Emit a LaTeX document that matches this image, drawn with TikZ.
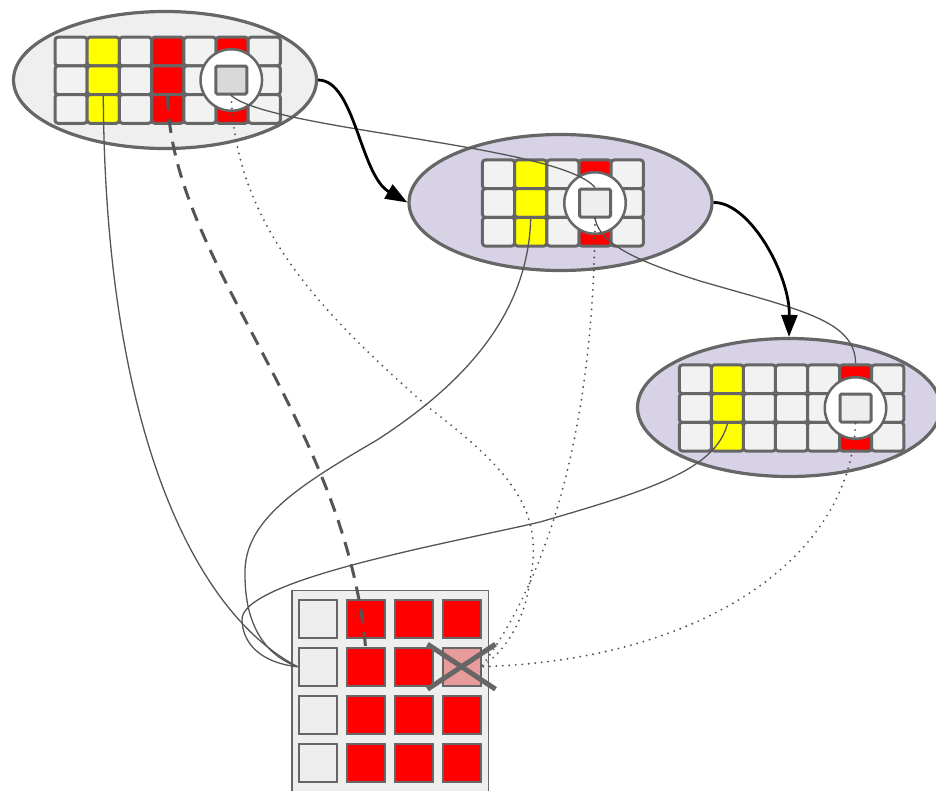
\documentclass[tikz,border=0pt]{standalone}
\usetikzlibrary{shapes.geometric,arrows.meta}

\definecolor{edgegray}{HTML}{666666}
\definecolor{linkgray}{HTML}{555555}
\definecolor{cellfill}{HTML}{F2F2F2}
\definecolor{ovalfill}{HTML}{EFEFEF}
\definecolor{lavender}{HTML}{D8D2E6}
\definecolor{boardfill}{HTML}{EEEEEE}
\definecolor{paleredfill}{HTML}{E89B9B}
\definecolor{pureyellow}{HTML}{FFFF00}
\definecolor{purered}{HTML}{FF0000}
\definecolor{keyfill}{HTML}{D9D9D9}

\tikzset{
  oval/.style={ellipse, draw=edgegray, line width=3.2pt, inner sep=0pt,
    minimum width=303pt, minimum height=136pt},
  slot/.style={rectangle, draw=edgegray, line width=3pt, rounded corners=3pt,
    inner sep=0pt, minimum width=32.2pt, minimum height=28.7pt},
  lens/.style={circle, draw=edgegray, line width=2.5pt, fill=white,
    inner sep=0pt, minimum size=61.5pt},
  key/.style={rectangle, draw=edgegray, line width=3pt, rounded corners=1.5pt,
    inner sep=0pt, minimum width=31pt, minimum height=28pt},
  square/.style={rectangle, draw=edgegray, line width=2pt, inner sep=0pt,
    minimum size=38pt},
  link/.style={draw=linkgray, line width=1.3pt},
  dots/.style={draw=linkgray, line width=2.1pt, line cap=round,
    dash pattern=on 0pt off 6.5pt},
  dashlink/.style={draw=linkgray, line width=3pt, dash pattern=on 14pt off 9pt},
  flow/.style={draw=black, line width=2.8pt, -{Triangle[length=22pt,width=16pt]}},
}

\begin{document}
\begin{tikzpicture}[x=1pt, y=-1pt]
\useasboundingbox (0,0) rectangle (936,790);

% ---- top oval with its 3x7 strip and lens ----
\node[oval, fill=ovalfill, minimum height=137pt] (ot) at (165,80) {};
\foreach \c/\f in {0/cellfill,1/pureyellow,2/cellfill,3/purered,4/cellfill,5/purered,6/cellfill}
  \foreach \r in {0,1,2}
    \node[slot, fill=\f] (t\r\c) at ({71.1+32.2*\c},{51.5+28.7*\r}) {};
\node[lens] (lt) at (231.3,80) {};
\node[key, fill=keyfill] (kt) at (231.3,80) {};

% ---- middle oval with its 3x5 strip and lens ----
\node[oval, fill=lavender] (om) at (560.5,202.5) {};
\foreach \c/\f in {0/cellfill,1/pureyellow,2/cellfill,3/purered,4/cellfill}
  \foreach \r in {0,1,2}
    \node[slot, fill=\f] (m\r\c) at ({498.5+32.2*\c},{174.3+28.7*\r}) {};
\node[lens] (lm) at (595,203) {};
\node[key, fill=boardfill] (km) at (595,203) {};

% ---- right oval with its 3x7 strip and lens ----
\node[oval, fill=lavender, minimum height=138pt] (or) at (789,407.5) {};
\foreach \c/\f in {0/cellfill,1/pureyellow,2/cellfill,3/cellfill,4/cellfill,5/purered,6/cellfill}
  \foreach \r in {0,1,2}
    \node[slot, fill=\f] (r\r\c) at ({695.4+32.05*\c},{379.3+28.7*\r}) {};
\node[lens] (lr) at (855.5,408) {};
\node[key, fill=boardfill] (kr) at (855.5,408) {};

% ---- 4x4 board (runs past the lower edge) ----
\node[draw=edgegray, line width=1.5pt, fill=boardfill, inner sep=0pt,
      minimum width=196.5pt, minimum height=205pt] (board) at (390,693.2) {};
\foreach \r/\last in {0/purered,1/paleredfill,2/purered,3/purered}{
  \node[square, fill=boardfill] (b\r0) at (317.5,{618.7+48*\r}) {};
  \foreach \c/\f in {1/purered,2/purered,3/\last}
    \node[square, fill=\f] (b\r\c) at ({317.5+48*\c},{618.7+48*\r}) {};
}
\draw[line width=5pt, edgegray] (b13.center) ++(-34,-22.5) -- ++(68,45);
\draw[line width=5pt, edgegray] (b13.center) ++(-34,22.5) -- ++(68,-45);

% ---- lens to lens ----
\path[link] (kt.south) .. controls (270,130) and (560,145) .. (km.north);
\path[link] (km.south) .. controls (600,245) and (640,262) .. (700,281)
  .. controls (800,310) and (855,320) .. (r05.north);

% ---- yellow columns to the board ----
\path[link] (t11.south) .. controls (105,420) and (190,610) .. (b10.west);
\path[link] (m11.south) .. controls (528,310) and (470,380) .. (377,440)
  .. controls (300,485) and (243,520) .. (245,575)
  .. controls (245,625) and (265,655) .. (b10.west);
\path[link] (r11.south) .. controls (715,470) and (650,490) .. (540,522)
  .. controls (450,543) and (240,580) .. (242,620)
  .. controls (243,650) and (270,664) .. (b10.west);

% ---- red column to the board ----
\path[dashlink] (t13.south) .. controls (170,260) and (345,420) .. (b11.north);

% ---- lenses to the crossed cell ----
\path[dots] (kt.south) .. controls (235,230) and (330,320) .. (428,407)
  .. controls (510,470) and (545,510) .. (530,580)
  .. controls (525,620) and (505,652) .. (b13.east);
\path[dots] (km.south) .. controls (594,400) and (560,560) .. (b13.east);
\path[dots] (kr.south) .. controls (850,560) and (700,660) .. (b13.east);

% ---- flow between the ovals ----
\path[flow] (ot.east) .. controls (355,80) and (360,175) .. (om.west);
\path[flow] (om.east) .. controls (750,202) and (790,275) .. (or.north);
\end{tikzpicture}
\end{document}
